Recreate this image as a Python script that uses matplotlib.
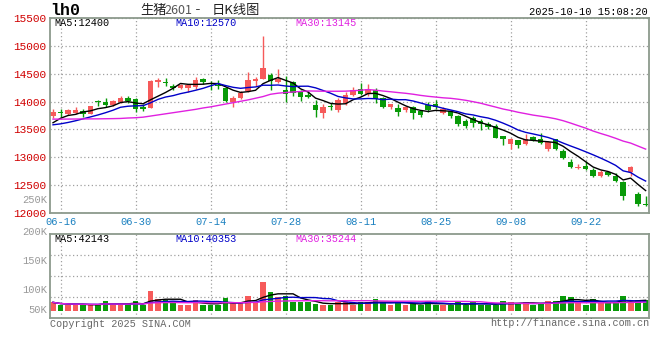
import numpy as np
import pandas as pd
import matplotlib
matplotlib.use('Agg')
import matplotlib.pyplot as plt

# daily OHLC of 生猪2601
opens = [13744, 13810, 13780, 13786, 13827, 13780, 14012, 14000, 13946, 14000,
         14060, 14042, 13911, 13881, 14351, 14345, 14280, 14238, 14244, 14268,
         14399, 14330, 14290, 14250, 13994, 14065, 14190, 14375, 14411, 14470,
         14351, 14202, 14357, 14190, 14119, 13935, 13792, 13925, 13851, 13982,
         14113, 14232, 14131, 14208, 14071, 13911, 13893, 13851, 13911, 13833,
         13940, 13964, 13792, 13833, 13744, 13655, 13714, 13655, 13595, 13557,
         13381, 13232, 13310, 13232, 13369, 13321, 13155, 13321, 13113, 12917,
         12810, 12845, 12768, 12667, 12744, 12667, 12560, 12744, 12340, 12161]
closes = [13816, 13792, 13840, 13851, 13768, 13917, 13988, 13935, 14012, 14060,
          14003, 13863, 13863, 14369, 14387, 14333, 14238, 14297, 14292, 14381,
          14351, 14310, 14278, 14012, 14071, 14149, 14381, 14399, 14607, 14369,
          14399, 14131, 14161, 14083, 14083, 13851, 13911, 13905, 14024, 14113,
          14208, 14143, 14232, 14042, 13911, 13952, 13805, 13911, 13786, 13756,
          13851, 13905, 13875, 13744, 13595, 13565, 13613, 13595, 13548, 13354,
          13333, 13333, 13220, 13321, 13310, 13262, 13280, 13143, 12994, 12834,
          12834, 12798, 12667, 12738, 12685, 12578, 12298, 12834, 12161, 12143]
highs = [13863, 13863, 13875, 13899, 13863, 13923, 14030, 14071, 14030, 14101,
         14101, 14071, 13958, 14387, 14428, 14428, 14321, 14309, 14309, 14435,
         14422, 14370, 14380, 14268, 14101, 14190, 14530, 14440, 15172, 14518,
         14577, 14458, 14369, 14202, 14190, 14024, 13952, 13970, 14071, 14179,
         14268, 14339, 14309, 14250, 14083, 13964, 13964, 13923, 13923, 13851,
         13994, 14024, 13911, 13851, 13756, 13685, 13744, 13685, 13625, 13595,
         13381, 13351, 13310, 13411, 13381, 13440, 13292, 13333, 13155, 12976,
         12875, 12935, 12816, 12768, 12756, 12709, 12578, 12845, 12370, 12310]
lows = [13697, 13732, 13756, 13768, 13720, 13768, 13923, 13899, 13923, 13982,
        13970, 13816, 13839, 13881, 14268, 14280, 14202, 14220, 14178, 14232,
        14321, 14200, 14230, 13994, 13911, 14054, 14173, 14280, 14399, 14208,
        14339, 13994, 14101, 14012, 14071, 13726, 13714, 13851, 13816, 13935,
        14101, 14113, 14101, 13982, 13881, 13863, 13744, 13816, 13685, 13726,
        13816, 13875, 13774, 13702, 13565, 13518, 13536, 13494, 13506, 13339,
        13214, 13143, 13173, 13214, 13292, 13232, 13113, 13131, 12976, 12816,
        12786, 12774, 12655, 12655, 12667, 12560, 12239, 12667, 12131, 12131]
volumes = [36300, 26100, 26100, 26100, 26100, 26100, 26100, 42000, 26100, 26100,
           29000, 42000, 26100, 85600, 49300, 46400, 42000, 26100, 26100, 46400,
           26100, 26100, 26100, 55100, 31900, 31900, 65300, 36300, 124700, 81200,
           59500, 65300, 36300, 36300, 36300, 29000, 26100, 26100, 36300, 36300,
           26100, 36300, 36300, 50800, 36300, 26100, 36300, 26100, 31900, 26100,
           42000, 26100, 26100, 26100, 36300, 26100, 36300, 26100, 26100, 26100,
           42000, 36300, 29000, 36300, 26100, 31900, 42000, 42000, 65300, 59500,
           31900, 26100, 49300, 36300, 36300, 31900, 65300, 36300, 46400, 46400]

# moving averages at the left edge need days before the window
ma5_head = [13620, 13700, 13750, 13770]
ma10_head = [13583, 13600, 13625, 13655, 13690, 13725, 13760, 13800, 13845]
ma30_head = [13685, 13685, 13686, 13687, 13688, 13689, 13690, 13692, 13694, 13697,
             13705, 13710, 13720, 13740, 13760, 13780, 13800, 13820, 13840, 13860,
             13885, 13905, 13930, 13955, 13980, 14005, 14030, 14060, 14090]

date_ticks = ['06-16', '06-30', '07-14', '07-28', '08-11', '08-25', '09-08', '09-22']
price_ticks = [12000, 12500, 13000, 13500, 14000, 14500, 15000, 15500]
price_head = ['MA5:12400', 'MA10:12570', 'MA30:13145']
vol_head = ['MA5:42143', 'MA10:40353', 'MA30:35244']
vol_labels = ['200K', '150K', '100K', '50K']

dates = pd.bdate_range('2025-06-13', '2025-10-10')
dates = dates[(dates < '2025-10-01') | (dates > '2025-10-08')]
day = dates.strftime('%m-%d').tolist()
x = np.arange(len(dates))

o = np.array(opens, float)
c = np.array(closes, float)
h = np.array(highs, float)
l = np.array(lows, float)
v = np.array(volumes, float)


def moving(vals, n, head):
    s = pd.Series(vals).rolling(n).mean()
    s.iloc[:len(head)] = head
    return s.values


ma5 = moving(c, 5, ma5_head)
ma10 = moving(c, 10, ma10_head)
ma30 = moving(c, 30, ma30_head)
vma5 = pd.Series(v).rolling(5, min_periods=1).mean()
vma10 = pd.Series(v).rolling(10, min_periods=1).mean()
vma30 = pd.Series(v).rolling(30, min_periods=1).mean()

RED = '#f65a5a'
GREEN = '#089a08'
C10 = '#0000c8'
C30 = '#e020e0'
BORDER = '#8c9a8c'
MONO = 'Liberation Mono'
CJK = ['Noto Sans CJK SC', 'DejaVu Sans']
cols = np.where(c >= o, RED, GREEN)

W, H = 660, 360
fig = plt.figure(figsize=(6.6, 3.6), dpi=100)
ax = fig.add_axes([50 / W, 1 - 213 / H, 599 / W, 195 / H])
axv = fig.add_axes([50 / W, 1 - 318 / H, 599 / W, 84 / H])

tick_pos = [day.index(d) for d in date_ticks]

# price panel
ax.vlines(x, l, h, colors=cols, lw=1, zorder=2)
ax.bar(x, np.maximum(np.abs(c - o), 14), bottom=np.minimum(o, c), width=0.74,
       color=cols, linewidth=0, zorder=2)
ax.plot(x, ma5, color='black', lw=1, zorder=3)
ax.plot(x, ma10, color=C10, lw=1, zorder=3)
ax.plot(x, ma30, color=C30, lw=1, zorder=3)
ax.set_xlim(-0.4, 79.45)
ax.set_ylim(12000, 15500)
ax.set_yticks(price_ticks)
ax.set_yticklabels([str(p) for p in price_ticks], color='#d00000', fontsize=8, family=MONO)
ax.set_xticks(tick_pos)
ax.set_xticklabels(date_ticks, color='#1a80c0', fontsize=7.5, family=MONO)
ax.tick_params(length=0, pad=3)
ax.grid(True, color='#a0a0a0', linestyle=(0, (1, 2)), lw=0.9)
ax.set_axisbelow(True)

# volume panel
axv.bar(x, v, width=0.78, color=cols, linewidth=0, zorder=2)
axv.plot(x, vma5, color='black', lw=1, zorder=3)
axv.plot(x, vma10, color=C10, lw=1, zorder=3)
axv.plot(x, vma30, color=C30, lw=1, zorder=3)
axv.set_xlim(-0.4, 79.45)
lo, hi = -31700, 333500
axv.set_ylim(lo, hi)
axv.set_yticks([lo + (hi - lo) * f for f in (0.25, 0.5, 0.75)])
axv.set_yticklabels([])
axv.set_xticks(tick_pos)
axv.set_xticklabels([])
axv.tick_params(length=0)
axv.grid(True, color='#a0a0a0', linestyle=(0, (1, 2)), lw=0.9)
axv.set_axisbelow(True)
for lab, yy in zip(vol_labels, [232, 261, 290, 310]):
    fig.text(47 / W, 1 - yy / H, lab, ha='right', va='center', color='#999999',
             fontsize=7.5, family=MONO)
fig.text(47 / W, 1 - 200 / H, '250K', ha='right', va='center', color='#999999',
         fontsize=7.5, family=MONO)

for a in (ax, axv):
    for s in a.spines.values():
        s.set_color(BORDER)
        s.set_linewidth(1.3)

# header texts
for txt, xx, col in zip(price_head, [54, 175, 295], ['black', C10, C30]):
    fig.text(xx / W, 1 - 23.5 / H, txt, va='center', color=col, fontsize=7.3, family=MONO)
for txt, xx, col in zip(vol_head, [54, 175, 295], ['black', C10, C30]):
    fig.text(xx / W, 1 - 238.5 / H, txt, va='center', color=col, fontsize=7.3, family=MONO)

fig.text(50 / W, 1 - 10.5 / H, 'lh0', va='center', fontsize=12, weight='bold', family=MONO)
fig.text(140 / W, 1 - 10.5 / H, '生猪', va='center', fontsize=9.5, color='#222222', family=CJK)
fig.text(164 / W, 1 - 10.5 / H, '2601', va='center', fontsize=9, color='#555555', family=CJK)
fig.text(194 / W, 1 - 10.5 / H, '-', va='center', fontsize=9.5, color='#222222', family=MONO)
fig.text(212 / W, 1 - 10.5 / H, '日K线图', va='center', fontsize=9.5, color='#222222', family=CJK)
fig.text(648 / W, 1 - 12 / H, '2025-10-10 15:08:20', ha='right', va='center',
         fontsize=7.5, family=MONO)
fig.text(50 / W, 1 - 324 / H, 'Copyright 2025 SINA.COM', va='center', color='#666666',
         fontsize=7.3, family=MONO)
fig.text(649 / W, 1 - 323 / H, 'http://finance.sina.com.cn', ha='right', va='center',
         color='#666666', fontsize=7.3, family=MONO)

fig.savefig('out.png', dpi=100)
